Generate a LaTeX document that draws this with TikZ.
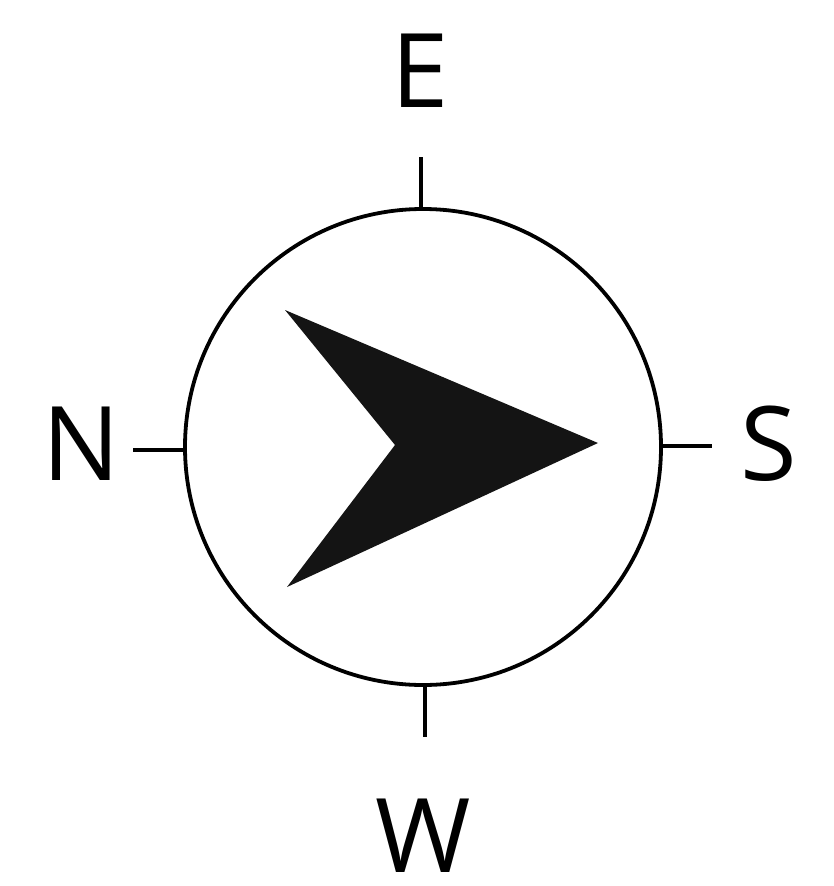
\documentclass[tikz,border=0pt]{standalone}
\usepackage{fontspec}
\setmainfont{Open Sans}
\begin{document}
\begin{tikzpicture}[x=1pt,y=-1pt,
  ln/.style={line width=3.8pt,black},
  lbl/.style={inner sep=0pt,anchor=base,font=\fontsize{103}{103}\selectfont}]
\useasboundingbox (0,0) rectangle (833,886);
\node[ln,draw,circle,minimum size=476pt,inner sep=0pt] (c) at (423,447) {};
\coordinate (tE) at (421,157);
\coordinate (tN) at (133,450);
\coordinate (tS) at (712,446);
\coordinate (tW) at (425,737);
\draw[ln] (c.north -| tE) -- (tE);
\draw[ln] (c.west |- tN) -- (tN);
\draw[ln] (c.east |- tS) -- (tS);
\draw[ln] (c.south -| tW) -- (tW);
\node[lbl] (E) at (420,107) {E};
\node[lbl] (N) at (81,480) {N};
\node[lbl] (S) at (769,480) {S};
\node[lbl] (W) at (423,872) {W};
\fill[black!92] (285,310) -- (598,443) -- (287,587) -- (395,445) -- cycle;
\end{tikzpicture}
\end{document}
